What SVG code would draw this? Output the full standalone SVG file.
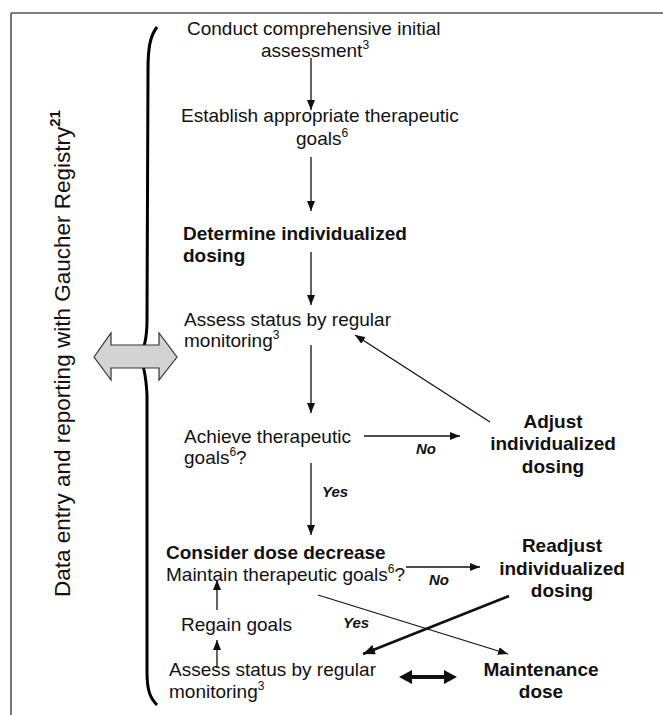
<svg xmlns="http://www.w3.org/2000/svg" width="663" height="715" viewBox="0 0 663 715">
<defs>
<style>
text{font-family:"Liberation Sans",Arial,Helvetica,sans-serif;font-size:19px;fill:#111;}
.b{font-weight:bold;}
.lbl{font-weight:bold;font-style:italic;font-size:15px;}
.c{text-anchor:middle;}
.sup{font-size:12px;}
.ln{stroke:#111;stroke-width:1.3;fill:none;}
.thick{stroke:#111;stroke-width:2.6;fill:none;}
</style>
<marker id="ah" viewBox="0 0 10 8" refX="10" refY="4" markerWidth="10" markerHeight="8" markerUnits="userSpaceOnUse" orient="auto">
<path d="M0,0 L10,4 L0,8 z" fill="#111"/>
</marker>
<marker id="ahb" viewBox="0 0 12 10" refX="12" refY="5" markerWidth="12" markerHeight="10" markerUnits="userSpaceOnUse" orient="auto">
<path d="M0,0 L12,5 L0,10 z" fill="#111"/>
</marker>
</defs>
<rect width="663" height="715" fill="#fff"/>
<g id="frame">
<path d="M11,13 L663,13 M11,13 L11,715" stroke="#555" stroke-width="1.6" fill="none"/>
</g>
<g id="registry">
<text transform="translate(70,597) rotate(-90)" style="font-size:22.5px">Data entry and reporting with Gaucher Registry<tspan class="b" style="font-size:15px" dy="-10">21</tspan></text>
</g>
<g id="brace">
<path d="M157,27 C150,36 148,48 148,70 L147,320 C147,340 144,350 139,357 C144,364 146,376 147,395 L147,672 C147,690 150,698 157,705" stroke="#000" stroke-width="3" fill="none"/>
</g>
<g id="registry-arrow">
<polygon points="94,357 111,333 111,345 159,345 159,333 177,357 159,380 159,368 111,368 111,380" fill="#d3d3d3" stroke="#333" stroke-width="1.2"/>
</g>
<g id="connectors">
<line class="ln" x1="311" y1="58" x2="311" y2="110" marker-end="url(#ah)"/>
<line class="ln" x1="311" y1="157" x2="311" y2="211" marker-end="url(#ah)"/>
<line class="ln" x1="311" y1="252" x2="311" y2="305" marker-end="url(#ah)"/>
<line class="ln" x1="311" y1="345" x2="311" y2="413" marker-end="url(#ah)"/>
<line class="ln" x1="364" y1="436" x2="460" y2="436" marker-end="url(#ah)"/>
<line class="ln" x1="490" y1="422" x2="355" y2="335" marker-end="url(#ah)"/>
<line class="ln" x1="311" y1="463" x2="311" y2="535" marker-end="url(#ah)"/>
<line class="ln" x1="406" y1="567" x2="480" y2="567" marker-end="url(#ah)"/>
<line class="ln" x1="217" y1="610" x2="217" y2="580" marker-end="url(#ah)"/>
<line class="ln" x1="217" y1="668" x2="217" y2="640" marker-end="url(#ah)"/>
<line class="ln" x1="318" y1="595" x2="508" y2="654" marker-end="url(#ah)"/>
<line class="thick" x1="509" y1="596" x2="363" y2="654" marker-end="url(#ahb)"/>
<polygon points="399,677 412,670 412,675 444,675 444,670 457,677 444,684 444,679 412,679 412,684" fill="#111"/>
<text class="lbl" x="416" y="454">No</text>
<text class="lbl" x="322" y="497">Yes</text>
<text class="lbl" x="429" y="585">No</text>
<text class="lbl" x="343" y="628">Yes</text>
</g>
<g id="n-conduct">
<text x="187" y="35">Conduct comprehensive initial</text>
<text x="261" y="57">assessment<tspan class="sup" dy="-8">3</tspan></text>
</g>
<g id="n-establish">
<text x="181" y="122">Establish appropriate therapeutic</text>
<text x="296" y="145">goals<tspan class="sup" dy="-8">6</tspan></text>
</g>
<g id="n-determine">
<text class="b" x="183" y="240">Determine individualized</text>
<text class="b" x="183" y="262">dosing</text>
</g>
<g id="n-assess1">
<text x="184" y="326">Assess status by regular</text>
<text x="184" y="347">monitoring<tspan class="sup" dy="-8">3</tspan></text>
</g>
<g id="n-achieve">
<text x="184" y="443">Achieve therapeutic</text>
<text x="184" y="464">goals<tspan class="sup" dy="-8">6</tspan><tspan dy="8">?</tspan></text>
</g>
<g id="n-adjust">
<text class="b c" x="553" y="428">Adjust</text>
<text class="b c" x="553" y="450">individualized</text>
<text class="b c" x="553" y="473">dosing</text>
</g>
<g id="n-consider">
<text class="b" x="166" y="559">Consider dose decrease</text>
<text x="166" y="581">Maintain therapeutic goals<tspan class="sup" dy="-8">6</tspan><tspan dy="8">?</tspan></text>
</g>
<g id="n-readjust">
<text class="b c" x="562" y="552">Readjust</text>
<text class="b c" x="562" y="575">individualized</text>
<text class="b c" x="562" y="597">dosing</text>
</g>
<g id="n-regain">
<text x="181" y="631">Regain goals</text>
</g>
<g id="n-assess2">
<text x="169" y="676">Assess status by regular</text>
<text x="169" y="698">monitoring<tspan class="sup" dy="-8">3</tspan></text>
</g>
<g id="n-maintenance">
<text class="b c" x="541" y="676">Maintenance</text>
<text class="b c" x="541" y="698">dose</text>
</g>
</svg>
